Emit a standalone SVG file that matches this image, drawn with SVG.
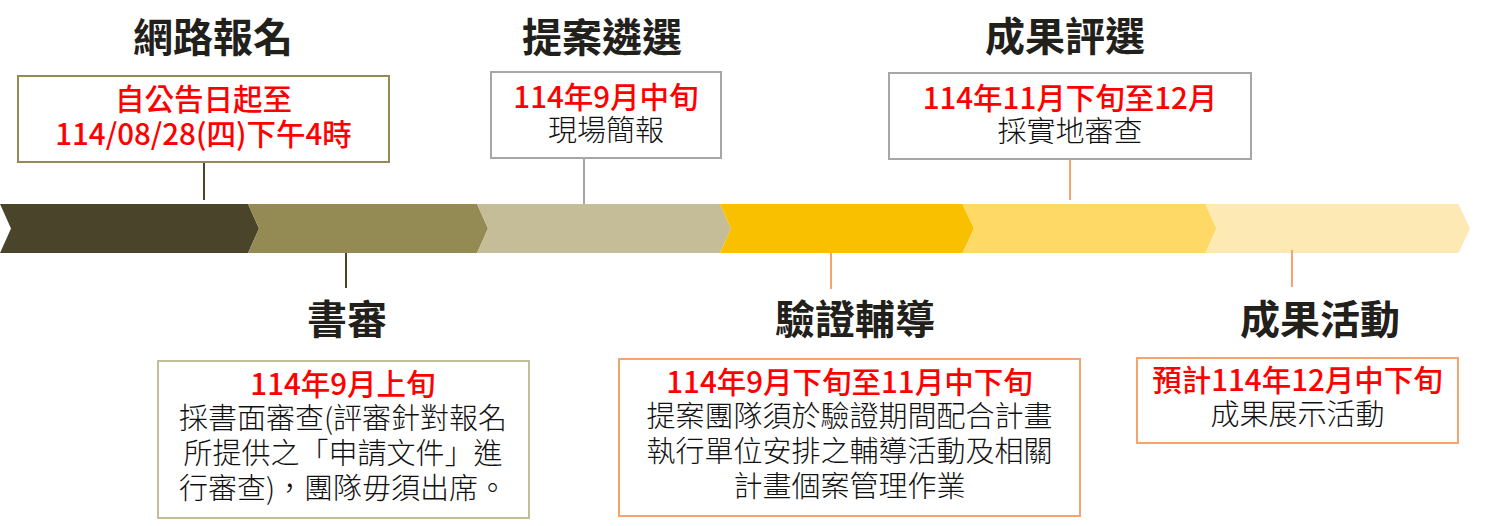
<svg xmlns="http://www.w3.org/2000/svg" width="1485" height="526" viewBox="0 0 1485 526">
<style>
text{font-family:"Noto Sans CJK TC","Noto Sans CJK SC",sans-serif;text-anchor:middle}
.title{font-size:40px;font-weight:700;fill:#22201a}
.red{font-size:29.5px;font-weight:500;fill:#ff0000}
.body{font-size:29px;font-weight:300;fill:#111111}
.box{fill:#ffffff;stroke-width:2}
.conn{stroke-width:2;fill:none}
</style>
<rect width="1485" height="526" fill="#ffffff"/>
<g id="timeline">
<polygon points="0,204 248,204 259,228.5 248,253 0,253 11,228.5" fill="#4a452a"/>
<polygon points="248,204 477,204 488,228.5 477,253 248,253 259,228.5" fill="#948a54"/>
<polygon points="477,204 720,204 731,228.5 720,253 477,253 488,228.5" fill="#c4bd97"/>
<polygon points="720,204 962.5,204 974,228.5 962.5,253 720,253 731,228.5" fill="#f9c000"/>
<polygon points="962.5,204 1205.5,204 1216.5,228.5 1205.5,253 962.5,253 974,228.5" fill="#ffd966"/>
<polygon points="1205.5,204 1458.5,204 1470,228.5 1458.5,253 1205.5,253 1216.5,228.5" fill="#fde9b3"/>
</g>
<g id="connectors">
<line class="conn" x1="204" y1="162" x2="204" y2="200" stroke="#4a452a"/>
<line class="conn" x1="346" y1="253" x2="346" y2="288" stroke="#4a452a"/>
<line class="conn" x1="584" y1="158" x2="584" y2="204" stroke="#a6a6a6"/>
<line class="conn" x1="831" y1="253" x2="831" y2="289" stroke="#f4a46c"/>
<line class="conn" x1="1070" y1="159" x2="1070" y2="200" stroke="#f4a46c"/>
<line class="conn" x1="1292" y1="250" x2="1292" y2="287" stroke="#f4a46c"/>
</g>
<g id="node-register">
<text class="title" x="213" y="52">網路報名</text>
<rect class="box" x="18" y="76" width="371" height="86" stroke="#948a54"/>
<text class="red" x="203.5" y="110">自公告日起至</text>
<text class="red" x="203.5" y="145">114/08/28(四)下午4時</text>
</g>
<g id="node-proposal">
<text class="title" x="602" y="52">提案遴選</text>
<rect class="box" x="491" y="72" width="230" height="86" stroke="#a6a6a6"/>
<text class="red" x="606" y="108">114年9月中旬</text>
<text class="body" x="606" y="141">現場簡報</text>
</g>
<g id="node-result-review">
<text class="title" x="1065" y="51">成果評選</text>
<rect class="box" x="889" y="73" width="362" height="86" stroke="#a6a6a6"/>
<text class="red" x="1070" y="109">114年11月下旬至12月</text>
<text class="body" x="1070" y="142">採實地審查</text>
</g>
<g id="node-document-review">
<text class="title" x="347" y="334">書審</text>
<rect class="box" x="158" y="361" width="371" height="157" stroke="#c4bd97"/>
<text class="red" x="343" y="395">114年9月上旬</text>
<text class="body" x="343" y="429">採書面審查(評審針對報名</text>
<text class="body" x="343" y="464">所提供之「申請文件」進</text>
<text class="body" x="343" y="499">行審查)，團隊毋須出席。</text>
</g>
<g id="node-coaching">
<text class="title" x="855" y="334">驗證輔導</text>
<rect class="box" x="619" y="359" width="461" height="157" stroke="#f4a46c"/>
<text class="red" x="849.5" y="393">114年9月下旬至11月中下旬</text>
<text class="body" x="849.5" y="427">提案團隊須於驗證期間配合計畫</text>
<text class="body" x="849.5" y="462">執行單位安排之輔導活動及相關</text>
<text class="body" x="849.5" y="497">計畫個案管理作業</text>
</g>
<g id="node-result-event">
<text class="title" x="1320" y="334">成果活動</text>
<rect class="box" x="1137" y="358" width="321" height="85" stroke="#f4a46c"/>
<text class="red" x="1297.5" y="391">預計114年12月中下旬</text>
<text class="body" x="1297.5" y="425">成果展示活動</text>
</g>
</svg>
